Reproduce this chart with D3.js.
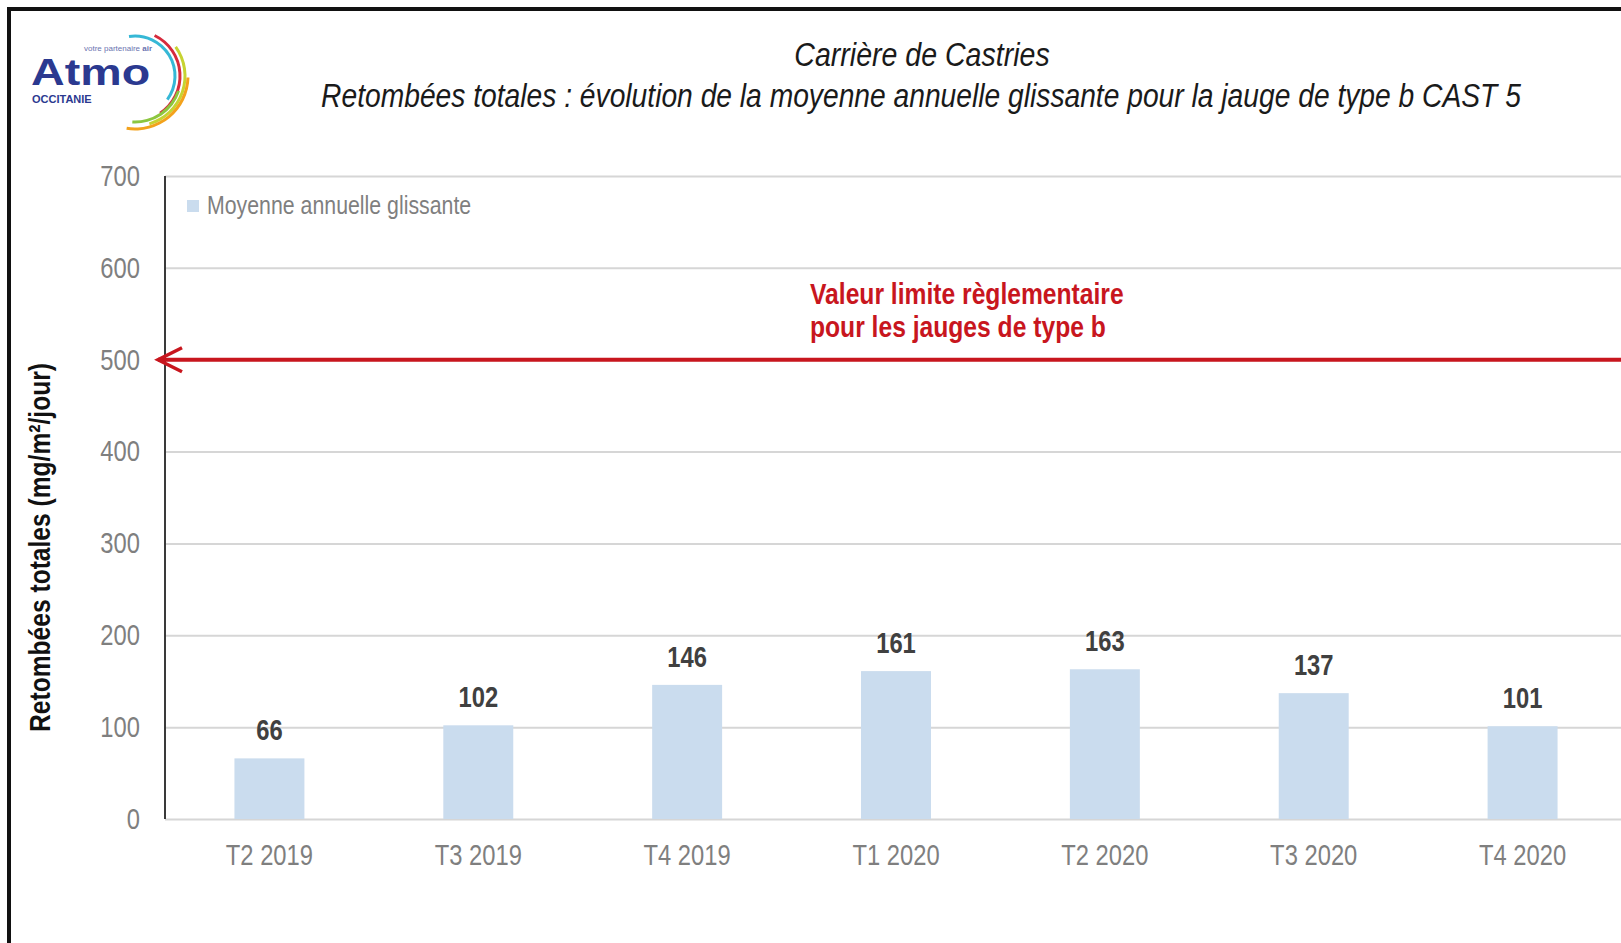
<!doctype html>
<html>
<head>
<meta charset="utf-8">
<title>Carrière de Castries - CAST 5</title>
<script src="https://d3js.org/d3.v7.min.js"></script>
<style>
body { margin: 0; background: white; overflow: hidden; }
svg { display: block; font-family: "Liberation Sans", Arial, sans-serif; }
</style>
</head>
<body>
<div id="chart"></div>
<script>
// data
var categories = ["T2 2019", "T3 2019", "T4 2019", "T1 2020", "T2 2020", "T3 2020", "T4 2020"];
var values = [66, 102, 146, 161, 163, 137, 101];
var yTicks = [0, 100, 200, 300, 400, 500, 600, 700];
var limitValue = 500;
var seriesName = "Moyenne annuelle glissante";

var W = 1621, H = 943;
var narrow = 0.82; // text in the picture is a condensed face

var svg = d3.select("#chart").append("svg")
  .attr("width", W)
  .attr("height", H);

// frame round the picture (cut on the right and bottom)
svg.append("rect")
  .attr("x", 9).attr("y", 9)
  .attr("width", W + 20).attr("height", H + 20)
  .attr("fill", "white")
  .attr("stroke", "#111")
  .attr("stroke-width", 4);

// scales
var x = d3.scaleBand()
  .domain(categories)
  .range([165, 1627])
  .paddingInner(0.665)
  .paddingOuter(0.3325);

var y = d3.scaleLinear()
  .domain([0, 700])
  .range([819, 176]);

// gridlines + y tick labels
var yAxis = svg.append("g")
  .attr("transform", "translate(165,0)")
  .call(d3.axisLeft(y).tickValues(yTicks).tickSize(-(W - 165)).tickPadding(0));
yAxis.select(".domain").remove();
yAxis.selectAll(".tick line")
  .attr("stroke", "#d6d6d6")
  .attr("stroke-width", 2);
yAxis.selectAll(".tick text")
  .attr("x", -25 / narrow)
  .attr("transform", "scale(" + narrow + ",1)")
  .attr("fill", "#7f7f7f")
  .style("font-size", "29px");

// bars
svg.selectAll("rect.bar")
  .data(values)
  .enter().append("rect")
  .attr("class", "bar")
  .attr("x", function(d, i) { return x(categories[i]); })
  .attr("y", function(d) { return y(d); })
  .attr("width", x.bandwidth())
  .attr("height", function(d) { return y(0) - y(d); })
  .attr("fill", "#cadcee");

// value labels
svg.selectAll("g.vlabel")
  .data(values)
  .enter().append("g")
  .attr("class", "vlabel")
  .attr("transform", function(d, i) {
    return "translate(" + (x(categories[i]) + x.bandwidth() / 2) + "," + (y(d) - 18) + ") scale(" + narrow + ",1)";
  })
  .append("text")
  .attr("text-anchor", "middle")
  .attr("fill", "#404040")
  .style("font-size", "29px")
  .style("font-weight", "bold")
  .text(function(d) { return d; });

// x axis labels
var xAxis = svg.append("g")
  .attr("transform", "translate(0," + y(0) + ")")
  .call(d3.axisBottom(x).tickSize(0).tickPadding(0));
xAxis.select(".domain").remove();
xAxis.selectAll(".tick text")
  .attr("y", 46)
  .attr("dy", 0)
  .attr("transform", "scale(" + narrow + ",1)")
  .attr("fill", "#7f7f7f")
  .style("font-size", "29px");

// y axis line
svg.append("line")
  .attr("x1", 165).attr("x2", 165)
  .attr("y1", y(700)).attr("y2", y(0))
  .attr("stroke", "#3a3a3a")
  .attr("stroke-width", 2);

// limit line with arrow
var red = "#c8161e";
var ly = y(limitValue);
svg.append("line")
  .attr("x1", 158).attr("x2", W)
  .attr("y1", ly).attr("y2", ly)
  .attr("stroke", red)
  .attr("stroke-width", 4);
svg.append("path")
  .attr("d", d3.line()([[182, ly - 12], [158, ly], [182, ly + 12]]))
  .attr("fill", "none")
  .attr("stroke", red)
  .attr("stroke-width", 3.5);

var note = svg.append("g")
  .attr("transform", "translate(810," + (ly - 56) + ") scale(0.85,1)")
  .attr("fill", red)
  .style("font-size", "29px")
  .style("font-weight", "bold");
note.append("text").text("Valeur limite règlementaire");
note.append("text").attr("y", 33).text("pour les jauges de type b");

// legend
svg.append("rect")
  .attr("x", 187).attr("y", 200)
  .attr("width", 12).attr("height", 12)
  .attr("fill", "#cadcee");
svg.append("text")
  .attr("transform", "translate(207,214) scale(" + narrow + ",1)")
  .attr("fill", "#7f7f7f")
  .style("font-size", "26px")
  .text(seriesName);

// y axis title
svg.append("text")
  .attr("transform", "translate(50," + ((y(0) + y(700)) / 2 + 50) + ") rotate(-90) scale(" + narrow + ",1)")
  .attr("text-anchor", "middle")
  .attr("fill", "#111")
  .style("font-size", "30px")
  .style("font-weight", "bold")
  .text("Retombées totales (mg/m²/jour)");

// titles
svg.append("text")
  .attr("transform", "translate(922,66) scale(0.84,1)")
  .attr("text-anchor", "middle")
  .attr("fill", "#1a1a1a")
  .style("font-size", "34px")
  .style("font-style", "italic")
  .text("Carrière de Castries");
svg.append("text")
  .attr("transform", "translate(921,107) scale(0.83,1)")
  .attr("text-anchor", "middle")
  .attr("fill", "#1a1a1a")
  .style("font-size", "34px")
  .style("font-style", "italic")
  .text("Retombées totales : évolution de la moyenne annuelle glissante pour la jauge de type b CAST 5");

// logo
var logo = svg.append("g");
logo.append("text")
  .attr("transform", "translate(31,85) scale(1.26,1)")
  .attr("fill", "#2b3990")
  .style("font-size", "37px")
  .style("font-weight", "bold")
  .text("Atmo");
logo.append("text")
  .attr("x", 32).attr("y", 103)
  .attr("fill", "#2b3990")
  .style("font-size", "11px")
  .style("font-weight", "bold")
  .text("OCCITANIE");
var tag = logo.append("text")
  .attr("x", 84).attr("y", 51)
  .attr("fill", "#6b74b0")
  .style("font-size", "8px");
tag.append("tspan").text("votre partenaire ");
tag.append("tspan").style("font-weight", "bold").text("air");

var arcs = [
  { r: 40, a0: -0.15, a1: 2.2, c: "#36b8d6" },
  { r: 45, a0: 0.45, a1: 2.55, c: "#d62a3c" },
  { r: 50, a0: 0.95, a1: 2.85, c: "#c7d331" },
  { r: 46, a0: 1.9, a1: 3.2, c: "#8cc63f" },
  { r: 53, a0: 1.6, a1: 3.3, c: "#f3a21c" }
];
logo.selectAll("path.arc")
  .data(arcs)
  .enter().append("path")
  .attr("class", "arc")
  .attr("transform", "translate(135,76)")
  .attr("d", function(d) {
    return d3.arc()({ innerRadius: d.r - 1.5, outerRadius: d.r + 1.5, startAngle: d.a0, endAngle: d.a1 });
  })
  .attr("fill", function(d) { return d.c; });
</script>
</body>
</html>
